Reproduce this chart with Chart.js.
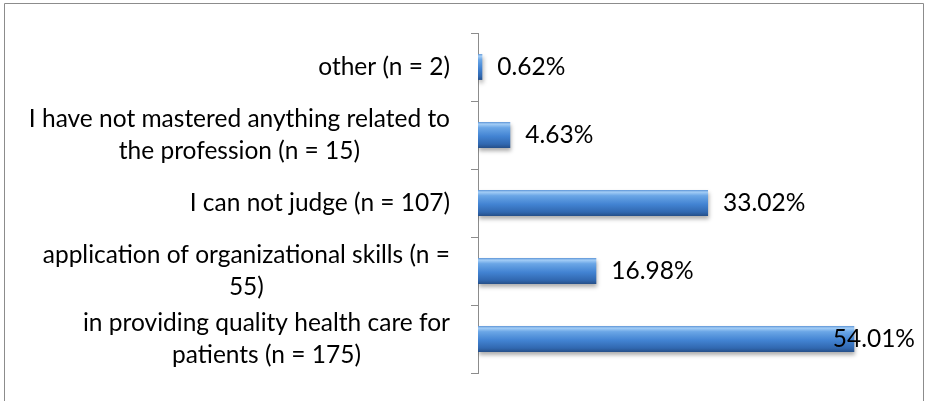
<!DOCTYPE html>
<html>
<head>
<meta charset="utf-8">
<script src="https://cdn.jsdelivr.net/npm/chart.js@4.4.1/dist/chart.umd.min.js"></script>
<style>
  html, body { margin: 0; padding: 0; background: #ffffff; }
  #wrap { position: relative; width: 925px; height: 401px; }
</style>
</head>
<body>
<div id="wrap"><canvas id="c" width="925" height="401"></canvas></div>
<script>
// ---- data ----
const categories = [
  ["other (n = 2)"],
  ["I have not mastered anything related to", "the profession (n = 15)"],
  ["I can not judge (n = 107)"],
  ["application of organizational skills (n =", "55)"],
  ["in providing quality health care for", "patients (n = 175)"]
];
const percentValues = [0.62, 4.63, 33.02, 16.98, 54.01];
const valueLabels = ["0.62%", "4.63%", "33.02%", "16.98%", "54.01%"];

const FONT_FAMILY = "Lato, 'Open Sans', 'DejaVu Sans', sans-serif";
const LABEL_SIZE = 24.5;

function barFill(context) {
  const chart = context.chart;
  const area = chart.chartArea;
  if (!area) return '#4a86d0';
  const y = chart.scales.y;
  const c = y.getPixelForValue(context.dataIndex);
  const h = 26;
  const g = chart.ctx.createLinearGradient(0, c - h / 2, 0, c + h / 2);
  g.addColorStop(0.0, '#5b93d6');
  g.addColorStop(0.08, '#a3cdf6');
  g.addColorStop(0.22, '#6aa6e6');
  g.addColorStop(0.55, '#4283d2');
  g.addColorStop(0.85, '#3168b0');
  g.addColorStop(1.0, '#254f88');
  return g;
}

const framePlugin = {
  id: 'frame',
  beforeDraw(chart) {
    const ctx = chart.ctx;
    ctx.save();
    ctx.fillStyle = '#ffffff';
    ctx.fillRect(0, 0, chart.width, chart.height);
    ctx.strokeStyle = '#8c8c8c';
    ctx.lineWidth = 1;
    ctx.beginPath();
    ctx.moveTo(4.5, chart.height);
    ctx.lineTo(4.5, 3.5);
    ctx.lineTo(923.5, 3.5);
    ctx.lineTo(923.5, chart.height);
    ctx.stroke();
    ctx.restore();
  }
};

const shadowPlugin = {
  id: 'barShadow',
  beforeDatasetsDraw(chart) {
    const ctx = chart.ctx;
    ctx.save();
    ctx.shadowColor = 'rgba(0,0,0,0.32)';
    ctx.shadowBlur = 4;
    ctx.shadowOffsetX = 1;
    ctx.shadowOffsetY = 3;
  },
  afterDatasetsDraw(chart) {
    chart.ctx.restore();
  }
};

const textPlugin = {
  id: 'texts',
  afterDraw(chart) {
    const ctx = chart.ctx;
    const yScale = chart.scales.y;
    ctx.save();
    ctx.font = LABEL_SIZE + 'px ' + FONT_FAMILY;
    ctx.fillStyle = '#000000';
    ctx.textBaseline = 'middle';
    // category labels: block right-aligned, lines centered inside block
    const rightEdge = yScale.right - 28;
    const lineH = 32;
    categories.forEach((lines, i) => {
      const cy = yScale.getPixelForValue(i);
      let maxW = 0;
      lines.forEach(l => { maxW = Math.max(maxW, ctx.measureText(l).width); });
      const cx = rightEdge - maxW / 2;
      ctx.textAlign = 'center';
      lines.forEach((l, k) => {
        const ly = cy + (k - (lines.length - 1) / 2) * lineH;
        ctx.fillText(l, cx, ly);
      });
    });
    // value labels
    const meta = chart.getDatasetMeta(0);
    ctx.textAlign = 'left';
    meta.data.forEach((bar, i) => {
      const txt = valueLabels[i];
      const w = ctx.measureText(txt).width;
      let x = bar.x + 15;
      if (x + w > 915) x = 915 - w;
      ctx.fillText(txt, x, bar.y);
    });
    ctx.restore();
  }
};

new Chart(document.getElementById('c'), {
  type: 'bar',
  data: {
    labels: categories,
    datasets: [{
      data: percentValues,
      backgroundColor: barFill,
      borderWidth: 0,
      barPercentage: 0.38,
      categoryPercentage: 1.0
    }]
  },
  options: {
    indexAxis: 'y',
    responsive: false,
    animation: false,
    devicePixelRatio: 1,
    layout: { padding: { left: 0, top: 33, right: 29, bottom: 28 } },
    plugins: {
      legend: { display: false },
      tooltip: { enabled: false },
      title: { display: false }
    },
    scales: {
      x: {
        display: false,
        min: 0,
        max: 60
      },
      y: {
        type: 'category',
        offset: true,
        afterFit(scale) { scale.width = 478; },
        border: { display: true, color: '#8c8c8c', width: 1 },
        grid: {
          offset: true,
          drawOnChartArea: false,
          drawTicks: true,
          tickLength: 7,
          color: '#8c8c8c'
        },
        ticks: { display: false }
      }
    }
  },
  plugins: [framePlugin, shadowPlugin, textPlugin]
});
</script>
</body>
</html>
